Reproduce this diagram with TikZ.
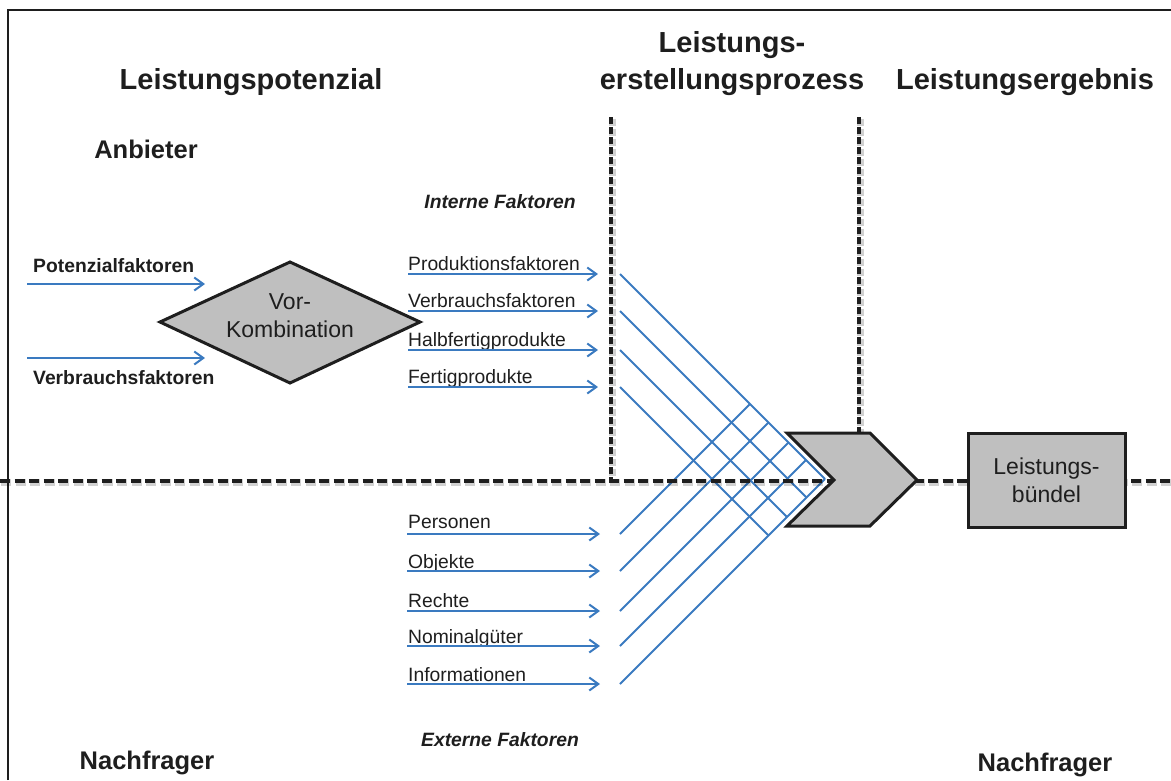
\documentclass[tikz,border=0pt]{standalone}
\usepackage{fontspec}
\setmainfont{Liberation Sans}
\usetikzlibrary{arrows.meta}
\definecolor{flow}{RGB}{58,122,192}
\definecolor{shapegray}{RGB}{191,191,191}
\definecolor{ink}{RGB}{30,30,30}

\begin{document}
\begin{tikzpicture}[x=1pt,y=-1pt,
  title/.style={font=\fontsize{29}{32}\selectfont\bfseries, text=ink, anchor=base, inner sep=0},
  side/.style={font=\fontsize{25.5}{28}\selectfont\bfseries, text=ink, anchor=base, inner sep=0},
  group/.style={font=\fontsize{19.3}{22}\selectfont\bfseries\itshape, text=ink, anchor=base, inner sep=0},
  inlabel/.style={font=\fontsize{19.3}{22}\selectfont\bfseries, text=ink, anchor=base west, inner sep=0},
  factor/.style={font=\fontsize{19.3}{22}\selectfont, text=ink, anchor=base west, inner sep=0},
  shapetext/.style={font=\fontsize{23}{28}\selectfont, text=ink, align=center, inner sep=0},
  feed/.style={draw=flow, line width=2pt, -{Straight Barb[length=9pt,width=13pt,line width=2pt]}},
  link/.style={draw=flow, line width=1.8pt},
  hdash/.style={draw=ink, line width=3.8pt, dash pattern=on 10pt off 4.5pt},
  vdash/.style={draw=ink, line width=3.8pt, dash pattern=on 7pt off 3pt},
  glow/.style={draw=black, opacity=0.18, line width=7pt},
  block/.style={fill=shapegray, draw=ink, line width=3pt, line join=miter},
]
\useasboundingbox (0,0) rectangle (1171,780);

% outer frame (left and top edges)
\draw[ink, line width=2pt] (8,780) -- (8,10) -- (1171,10);

% headings
\node[title] (hpot) at (251,89) {Leistungspotenzial};
\node[title] (hproz1) at (732,52) {Leistungs-};
\node[title] (hproz2) at (732,89) {erstellungsprozess};
\node[title] (herg) at (1025,89) {Leistungsergebnis};
\node[side] (anb) at (146,158) {Anbieter};
\node[side] (nachl) at (147,769) {Nachfrager};
\node[side] (nachr) at (1045,771) {Nachfrager};
\node[group] (intern) at (500,208) {Interne Faktoren};
\node[group] (extern) at (500,746) {Externe Faktoren};

% coordinates of the phase boundaries
\coordinate (hl) at (0,481);
\coordinate (hr) at (1171,481);
\coordinate (v1t) at (611,117);
\coordinate (v1b) at (611,481);
\coordinate (v2t) at (859,117);
\coordinate (v2b) at (859,433);

% blue crossing lines: internal factors run down, external factors run up
\foreach \n/\y/\ex/\ey in {1/274/825/479, 2/311/806.5/497.5, 3/350/787/517, 4/387/768.5/535.5}{
  \coordinate (us\n) at (620,\y);
  \coordinate (ue\n) at (\ex,\ey);
  \draw[link] (us\n) -- (ue\n);
}
\foreach \n/\y/\ex/\ey in {1/534/750/404, 2/571/768.5/422.5, 3/611/788.5/442.5, 4/646/806/460, 5/684/825/479}{
  \coordinate (ls\n) at (620,\y);
  \coordinate (le\n) at (\ex,\ey);
  \draw[link] (ls\n) -- (le\n);
}

% dashed boundaries with a soft shadow
\begin{scope}[transform canvas={shift={(1pt,-1.5pt)}}]
  \draw[glow, dash pattern=on 10pt off 4.5pt] (hl) -- (hr);
  \draw[glow, dash pattern=on 7pt off 3pt] (v1t) -- (v1b);
  \draw[glow, dash pattern=on 7pt off 3pt] (v2t) -- (v2b);
\end{scope}
\draw[hdash] (hl) -- (hr);
\draw[vdash] (v1t) -- (v1b);
\draw[vdash] (v2t) -- (v2b);

% pre-combination diamond
\draw[block] (160,322) coordinate (dl) -- (290,262) coordinate (dt)
  -- (420,322) coordinate (dr) -- (290,383) coordinate (db) -- cycle;
\node[shapetext] (vk) at (290,316) {Vor-\\Kombination};

% process chevron
\draw[block] (787,433) coordinate (ctl) -- (870,433) coordinate (ctr)
  -- (917,480) coordinate (ctip) -- (870,526) coordinate (cbr)
  -- (787,526) coordinate (cbl) -- (834,480) coordinate (cnotch) -- cycle;

% result box
\node[block, shapetext, draw=ink, minimum width=157pt, minimum height=94pt]
  (lb) at (1046.5,480) {Leistungs-\\bündel};

% inputs of the pre-combination
\node[inlabel] (pf) at (33,272) {Potenzialfaktoren};
\node[inlabel] (vf) at (33,384) {Verbrauchsfaktoren};
\coordinate (pfs) at (27,284);
\coordinate (pfe) at (205,284);
\coordinate (vfs) at (27,358);
\coordinate (vfe) at (205,358);
\draw[feed] (pfs) -- (pfe);
\draw[feed] (vfs) -- (vfe);

% internal factors
\foreach \n/\y/\txt in {1/274/Produktionsfaktoren, 2/311/Verbrauchsfaktoren,
                        3/350/Halbfertigprodukte, 4/387/Fertigprodukte}{
  \node[factor] (if\n) at (408,\y-3.5) {\txt};
  \coordinate (ia\n) at (408,\y);
  \coordinate (ib\n) at (598,\y);
  \draw[feed] (ia\n) -- (ib\n);
}

% external factors
\foreach \n/\y/\b/\txt in {1/534/528/Personen, 2/571/568/Objekte, 3/611/607/Rechte,
                           4/646/643/Nominalgüter, 5/684/681/Informationen}{
  \node[factor] (ef\n) at (408,\b) {\txt};
  \coordinate (ea\n) at (407,\y);
  \coordinate (eb\n) at (600,\y);
  \draw[feed] (ea\n) -- (eb\n);
}
\end{tikzpicture}
\end{document}
